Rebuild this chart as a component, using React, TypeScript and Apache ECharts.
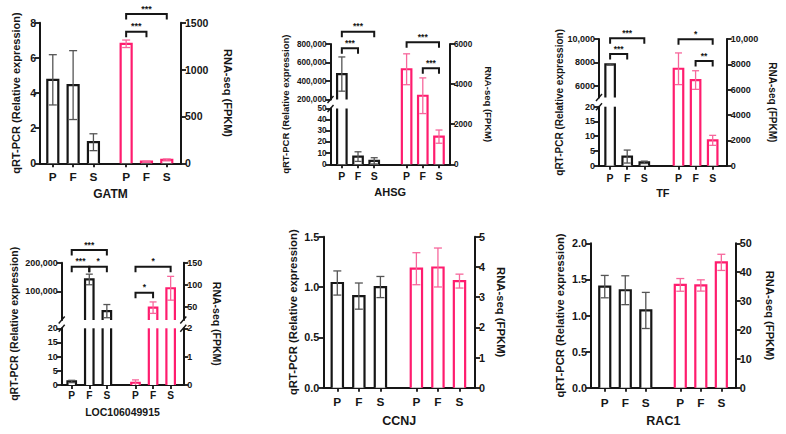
import React, { useEffect, useRef } from 'react';
import * as echarts from 'echarts';

type Sig = { set: 'qpcr' | 'rna'; from: string; to: string; mark: string };

const groups = ['P', 'F', 'S'];
const qpcrTitle = 'qRT-PCR (Relative expression)';
const rnaTitle = 'RNA-seq (FPKM)';

// GATM
const gatmQpcr = [4.75, 4.45, 1.2];
const gatmQpcrSd = [1.43, 1.96, 0.48];
const gatmRna = [1275, 18, 36];
const gatmRnaSd = [40, 4, 10];
const gatmSig: Sig[] = [
  { set: 'rna', from: 'P', to: 'F', mark: '***' },
  { set: 'rna', from: 'P', to: 'S', mark: '***' },
];

// AHSG
const ahsgQpcr = [475000, 6.9, 3.1];
const ahsgQpcrSd = [185000, 4.3, 2.8];
const ahsgRna = [4740, 3420, 1380];
const ahsgRnaSd = [770, 890, 330];
const ahsgSig: Sig[] = [
  { set: 'qpcr', from: 'P', to: 'F', mark: '***' },
  { set: 'qpcr', from: 'P', to: 'S', mark: '***' },
  { set: 'rna', from: 'P', to: 'S', mark: '***' },
  { set: 'rna', from: 'F', to: 'S', mark: '***' },
];

// TF
const tfQpcr = [7830, 3.1, 1.15];
const tfQpcrSd = [60, 2.2, 0.4];
const tfRna = [7650, 6760, 2000];
const tfRnaSd = [1250, 735, 395];
const tfSig: Sig[] = [
  { set: 'qpcr', from: 'P', to: 'F', mark: '***' },
  { set: 'qpcr', from: 'P', to: 'S', mark: '***' },
  { set: 'rna', from: 'P', to: 'S', mark: '*' },
  { set: 'rna', from: 'F', to: 'S', mark: '**' },
];

// LOC106049915
const locQpcr = [1.25, 141500, 31000];
const locQpcrSd = [0.4, 18500, 23000];
const locRna = [0.08, 48, 92];
const locRnaSd = [0.1, 13, 27];
const locSig: Sig[] = [
  { set: 'qpcr', from: 'P', to: 'F', mark: '***' },
  { set: 'qpcr', from: 'P', to: 'S', mark: '***' },
  { set: 'qpcr', from: 'F', to: 'S', mark: '*' },
  { set: 'rna', from: 'P', to: 'F', mark: '*' },
  { set: 'rna', from: 'P', to: 'S', mark: '*' },
];

// CCNJ
const ccnjQpcr = [1.04, 0.91, 1.0];
const ccnjQpcrSd = [0.12, 0.13, 0.105];
const ccnjRna = [3.94, 3.98, 3.53];
const ccnjRnaSd = [0.53, 0.645, 0.23];

// RAC1
const rac1Qpcr = [1.4, 1.35, 1.07];
const rac1QpcrSd = [0.155, 0.2, 0.25];
const rac1Rna = [35.6, 35.4, 43.4];
const rac1RnaSd = [2.2, 1.95, 2.8];

// Axis tick values for the broken segments
const tfUpperTicks = [6000, 8000, 10000];
const locUpperTicks = [100000, 200000];
const locRnaUpperTicks = [50, 100, 150];

const INK = '#161616';
const PINK = '#ff1c6e';
const INK_ERR = '#555555';
const PINK_ERR = '#f7679c';
const FONT = "'Liberation Sans', Arial, Helvetica, sans-serif";

type Seg = { min: number; max: number; top: number; bottom: number; interval?: number; ticks?: number[] };
type Layout = {
  L: number; R: number; T: number; B: number;
  gap: number; ml: number; mr: number; barW: number; capW: number;
  font: number; xFont: number; nameFont: number; geneFont: number; starFont: number;
  leftNameGap: number; rightNameGap: number; geneGap: number; xMargin: number;
  left: Seg[]; right: Seg[]; bracketY: number[];
  fmtLeft: (v: number) => string; fmtRight: (v: number) => string;
};
type Panel = {
  gene: string; qpcr: number[]; qpcrSd: number[]; rna: number[]; rnaSd: number[]; sig: Sig[]; layout: Layout;
};

const fmtPlain = (v: number) => (v >= 10000 ? v.toLocaleString('en-US') : String(v));
const fmtDec = (v: number) => v.toFixed(1);

const panels: Panel[] = [
  {
    gene: 'GATM', qpcr: gatmQpcr, qpcrSd: gatmQpcrSd, rna: gatmRna, rnaSd: gatmRnaSd, sig: gatmSig,
    layout: {
      L: 40, R: 181, T: 22.7, B: 163.3, gap: 1.61, ml: 0.63, mr: 0.7, barW: 11, capW: 8,
      font: 10.5, xFont: 11.8, nameFont: 11, geneFont: 12, starFont: 9,
      leftNameGap: 19, rightNameGap: 41.5, geneGap: 25, xMargin: 8,
      left: [{ min: 0, max: 8, top: 22.7, bottom: 163.3, interval: 2 }],
      right: [{ min: 0, max: 1500, top: 22.7, bottom: 163.3, interval: 500 }],
      bracketY: [31.7, 14], fmtLeft: fmtPlain, fmtRight: fmtPlain,
    },
  },
  {
    gene: 'AHSG', qpcr: ahsgQpcr, qpcrSd: ahsgQpcrSd, rna: ahsgRna, rnaSd: ahsgRnaSd, sig: ahsgSig,
    layout: {
      L: 330.5, R: 450, T: 44, B: 164.3, gap: 2, ml: 0.7, mr: 0.68, barW: 9.5, capW: 7,
      font: 8.2, xFont: 10.5, nameFont: 9.5, geneFont: 11, starFont: 8.5,
      leftNameGap: 40.5, rightNameGap: 33, geneGap: 22, xMargin: 6.5,
      left: [
        { min: 0, max: 50, top: 108.5, bottom: 164.3, interval: 10 },
        { min: 200000, max: 800000, top: 44, bottom: 99.5, interval: 200000 },
      ],
      right: [{ min: 0, max: 6000, top: 44, bottom: 164.3, interval: 2000 }],
      bracketY: [48.3, 31.7, 42.3, 68.3], fmtLeft: fmtPlain, fmtRight: fmtPlain,
    },
  },
  {
    gene: 'TF', qpcr: tfQpcr, qpcrSd: tfQpcrSd, rna: tfRna, rnaSd: tfRnaSd, sig: tfSig,
    layout: {
      L: 599, R: 726.7, T: 39, B: 165.7, gap: 2, ml: 0.65, mr: 0.82, barW: 9.5, capW: 7,
      font: 9, xFont: 10.5, nameFont: 10, geneFont: 11, starFont: 8.5,
      leftNameGap: 35, rightNameGap: 41, geneGap: 21.5, xMargin: 6.5,
      left: [
        { min: 0, max: 20, top: 106.7, bottom: 165.7, interval: 5 },
        { min: 5000, max: 10000, top: 39, bottom: 97.5, ticks: tfUpperTicks },
      ],
      right: [{ min: 0, max: 10000, top: 39, bottom: 165.7, interval: 2000 }],
      bracketY: [54, 38.3, 39.3, 61], fmtLeft: fmtPlain, fmtRight: fmtPlain,
    },
  },
  {
    gene: 'LOC106049915', qpcr: locQpcr, qpcrSd: locQpcrSd, rna: locRna, rnaSd: locRnaSd, sig: locSig,
    layout: {
      L: 61.7, R: 183.3, T: 262.7, B: 385, gap: 1.63, ml: 0.57, mr: 0.72, barW: 8.5, capW: 7,
      font: 9, xFont: 10.2, nameFont: 10.5, geneFont: 10.5, starFont: 8.5,
      leftNameGap: 42.5, rightNameGap: 28.5, geneGap: 21.5, xMargin: 5,
      left: [
        { min: 0, max: 20, top: 328.3, bottom: 385, interval: 5 },
        { min: 20, max: 200000, top: 262.7, bottom: 320, ticks: locUpperTicks },
      ],
      right: [
        { min: 0, max: 2, top: 328.3, bottom: 385, interval: 1 },
        { min: 20, max: 150, top: 262.7, bottom: 320, ticks: locRnaUpperTicks },
      ],
      bracketY: [266.7, 250, 266.7, 292.7, 266.7], fmtLeft: fmtPlain, fmtRight: fmtPlain,
    },
  },
  {
    gene: 'CCNJ', qpcr: ccnjQpcr, qpcrSd: ccnjQpcrSd, rna: ccnjRna, rnaSd: ccnjRnaSd, sig: [],
    layout: {
      L: 323.3, R: 475, T: 236.7, B: 387.7, gap: 1.67, ml: 0.65, mr: 0.72, barW: 11.3, capW: 8,
      font: 10.8, xFont: 11.8, nameFont: 11.3, geneFont: 12.5, starFont: 9,
      leftNameGap: 24.6, rightNameGap: 20, geneGap: 27, xMargin: 8,
      left: [{ min: 0, max: 1.5, top: 236.7, bottom: 387.7, interval: 0.5 }],
      right: [{ min: 0, max: 5, top: 236.7, bottom: 387.7, interval: 1 }],
      bracketY: [], fmtLeft: fmtDec, fmtRight: fmtPlain,
    },
  },
  {
    gene: 'RAC1', qpcr: rac1Qpcr, qpcrSd: rac1QpcrSd, rna: rac1Rna, rnaSd: rac1RnaSd, sig: [],
    layout: {
      L: 591, R: 735.7, T: 243.3, B: 387.7, gap: 1.68, ml: 0.67, mr: 0.7, barW: 11, capW: 8,
      font: 10.8, xFont: 11.8, nameFont: 11.2, geneFont: 12.5, starFont: 9,
      leftNameGap: 25.4, rightNameGap: 29, geneGap: 27, xMargin: 9,
      left: [{ min: 0, max: 2, top: 243.3, bottom: 387.7, interval: 0.5 }],
      right: [{ min: 0, max: 50, top: 243.3, bottom: 387.7, interval: 10 }],
      bracketY: [], fmtLeft: fmtDec, fmtRight: fmtPlain,
    },
  },
];

const axisLineStyle = { color: INK, width: 2 };

// Hollow bar with error bar, clipped by hand to one axis segment so broken bars stay open at the cut.
function barRenderer(seg: Seg, barW: number, capW: number, color: string, errColor: string) {
  return (params: any, api: any) => {
    const x = api.value(0);
    const v = api.value(1);
    const sd = api.value(2);
    const clamp = (t: number) => Math.max(seg.min, Math.min(seg.max, t));
    const children: any[] = [];
    const base = clamp(0);
    const top = clamp(v);
    if (top > base) {
      const [cx, yb] = api.coord([x, base]);
      const yt = api.coord([x, top])[1];
      const l = cx - barW / 2;
      const r = cx + barW / 2;
      children.push({ type: 'rect', shape: { x: l, y: yt, width: barW, height: yb - yt }, style: { fill: '#fff' } });
      if (v <= seg.max) {
        children.push({
          type: 'polyline',
          shape: { points: [[l, yb], [l, yt], [r, yt], [r, yb]] },
          style: { stroke: color, lineWidth: 2.2, fill: 'none' },
        });
      } else {
        children.push({ type: 'line', shape: { x1: l, y1: yb, x2: l, y2: yt }, style: { stroke: color, lineWidth: 2.2 } });
        children.push({ type: 'line', shape: { x1: r, y1: yb, x2: r, y2: yt }, style: { stroke: color, lineWidth: 2.2 } });
      }
    }
    const lo = v - sd;
    const hi = v + sd;
    if (hi > seg.min && lo < seg.max) {
      const cx = api.coord([x, seg.min])[0];
      const ylo = api.coord([x, clamp(lo)])[1];
      const yhi = api.coord([x, clamp(hi)])[1];
      const es = { stroke: errColor, lineWidth: 1.3 };
      children.push({ type: 'line', shape: { x1: cx, y1: ylo, x2: cx, y2: yhi }, style: es });
      if (hi <= seg.max) children.push({ type: 'line', shape: { x1: cx - capW / 2, y1: yhi, x2: cx + capW / 2, y2: yhi }, style: es });
      if (lo >= seg.min) children.push({ type: 'line', shape: { x1: cx - capW / 2, y1: ylo, x2: cx + capW / 2, y2: ylo }, style: es });
    }
    return { type: 'group', children };
  };
}

// Short diagonal stroke across the axis where a segment is cut
function slashRenderer(params: any, api: any) {
  const [x, y] = api.coord([api.value(0), api.value(1)]);
  return {
    type: 'line',
    shape: { x1: x - 3, y1: y + 3.5, x2: x + 3, y2: y - 3.5 },
    style: { stroke: INK, lineWidth: 1.4 },
  };
}

function buildOption() {
  const grid: any[] = [];
  const xAxis: any[] = [];
  const yAxis: any[] = [];
  const series: any[] = [];

  panels.forEach((p) => {
    const lay = p.layout;
    const xs = [0, 1, 2, 2 + lay.gap, 3 + lay.gap, 4 + lay.gap];
    const xMin = -lay.ml;
    const xMax = 4 + lay.gap + lay.mr;
    const labelAt = (v: number) => {
      const i = xs.findIndex((t) => Math.abs(t - v) < 1e-6);
      return i < 0 ? '' : groups[i % 3];
    };
    const tickText = { color: INK, fontWeight: 'bold', fontSize: lay.font, fontFamily: FONT };
    const nameText = { color: INK, fontWeight: 'bold', fontSize: lay.nameFont, fontFamily: FONT };

    // Base grid: x axis with group labels, plus the two axis titles
    const gBase = grid.length;
    grid.push({ left: lay.L, top: lay.T, width: lay.R - lay.L, height: lay.B - lay.T });
    const xBase = xAxis.length;
    xAxis.push({
      type: 'value', gridIndex: gBase, min: xMin, max: xMax,
      name: p.gene, nameLocation: 'middle', nameGap: lay.geneGap,
      nameTextStyle: { color: INK, fontWeight: 'bold', fontSize: lay.geneFont, fontFamily: FONT },
      axisLine: { show: true, onZero: false, lineStyle: axisLineStyle },
      axisTick: { show: true, customValues: xs, length: 4, lineStyle: { color: INK, width: 1.8 } },
      axisLabel: {
        show: true, customValues: xs, formatter: labelAt, margin: lay.xMargin,
        fontSize: lay.xFont, color: INK, fontWeight: 'bold', fontFamily: FONT,
      },
      splitLine: { show: false },
    });
    const yBase = yAxis.length;
    yAxis.push({
      type: 'value', gridIndex: gBase, position: 'left', min: 0, max: 1,
      name: qpcrTitle, nameLocation: 'middle', nameRotate: 90, nameGap: lay.leftNameGap, nameTextStyle: nameText,
      axisLine: { show: false, onZero: false }, axisTick: { show: false }, axisLabel: { show: false }, splitLine: { show: false },
    });
    yAxis.push({
      type: 'value', gridIndex: gBase, position: 'right', min: 0, max: 1,
      name: rnaTitle, nameLocation: 'middle', nameRotate: -90, nameGap: lay.rightNameGap, nameTextStyle: nameText,
      axisLine: { show: false, onZero: false }, axisTick: { show: false }, axisLabel: { show: false }, splitLine: { show: false },
    });

    const addSide = (
      side: 'left' | 'right', segs: Seg[], values: number[], sd: number[], offset: number,
      color: string, errColor: string, fmt: (v: number) => string,
    ) => {
      segs.forEach((seg, si) => {
        const g = grid.length;
        grid.push({ left: lay.L, top: seg.top, width: lay.R - lay.L, height: seg.bottom - seg.top });
        const xi = xAxis.length;
        xAxis.push({ type: 'value', gridIndex: g, min: xMin, max: xMax, show: false });
        const yi = yAxis.length;
        const tick: any = { show: true, length: 5, inside: false, lineStyle: { color: INK, width: 1.8 } };
        const label: any = { show: true, formatter: fmt, margin: 4, ...tickText };
        if (seg.ticks) {
          tick.customValues = seg.ticks;
          label.customValues = seg.ticks;
        }
        yAxis.push({
          type: 'value', gridIndex: g, position: side, min: seg.min, max: seg.max,
          ...(seg.interval ? { interval: seg.interval } : {}),
          axisLine: { show: true, onZero: false, lineStyle: axisLineStyle },
          axisTick: tick, axisLabel: label, splitLine: { show: false },
        });
        series.push({
          type: 'custom', xAxisIndex: xi, yAxisIndex: yi, clip: false, silent: true,
          data: values.map((v, i) => [xs[offset + i], v, sd[i]]),
          renderItem: barRenderer(seg, lay.barW, lay.capW, color, errColor),
        });
        if (segs.length > 1) {
          const atX = side === 'left' ? xMin : xMax;
          const atY = si === 0 ? seg.max : seg.min;
          series.push({
            type: 'custom', xAxisIndex: xi, yAxisIndex: yi, clip: false, silent: true,
            data: [[atX, atY]], renderItem: slashRenderer,
          });
        }
      });
    };
    addSide('left', lay.left, p.qpcr, p.qpcrSd, 0, INK, INK_ERR, lay.fmtLeft);
    addSide('right', lay.right, p.rna, p.rnaSd, 3, PINK, PINK_ERR, lay.fmtRight);

    if (p.sig.length) {
      const marks = p.sig.map((s) => s.mark);
      const ys = lay.bracketY;
      series.push({
        type: 'custom', xAxisIndex: xBase, yAxisIndex: yBase, clip: false, silent: true,
        data: p.sig.map((s) => {
          const off = s.set === 'qpcr' ? 0 : 3;
          return [xs[off + groups.indexOf(s.from)], xs[off + groups.indexOf(s.to)]];
        }),
        renderItem: (params: any, api: any) => {
          const xa = api.coord([api.value(0), 0])[0];
          const xb = api.coord([api.value(1), 0])[0];
          const y = ys[params.dataIndex];
          return {
            type: 'group',
            children: [
              {
                type: 'polyline',
                shape: { points: [[xa, y + 5.5], [xa, y], [xb, y], [xb, y + 5.5]] },
                style: { stroke: INK, lineWidth: 2, fill: 'none' },
              },
              {
                type: 'text',
                style: {
                  text: marks[params.dataIndex], x: (xa + xb) / 2, y: y - 1,
                  align: 'center', verticalAlign: 'bottom',
                  fill: INK, fontSize: lay.starFont, fontWeight: 'bold', fontFamily: FONT,
                },
              },
            ],
          };
        },
      });
    }
  });

  return { animation: false, backgroundColor: '#ffffff', grid, xAxis, yAxis, series };
}

export default function App() {
  const ref = useRef<HTMLDivElement>(null);
  useEffect(() => {
    if (!ref.current) return;
    const chart = echarts.init(ref.current, undefined, { renderer: 'svg' });
    chart.setOption(buildOption() as any);
    return () => chart.dispose();
  }, []);
  return (
    <div
      ref={ref}
      style={{ position: 'fixed', left: 0, top: 0, width: 786, height: 434, background: '#fff' }}
    />
  );
}
